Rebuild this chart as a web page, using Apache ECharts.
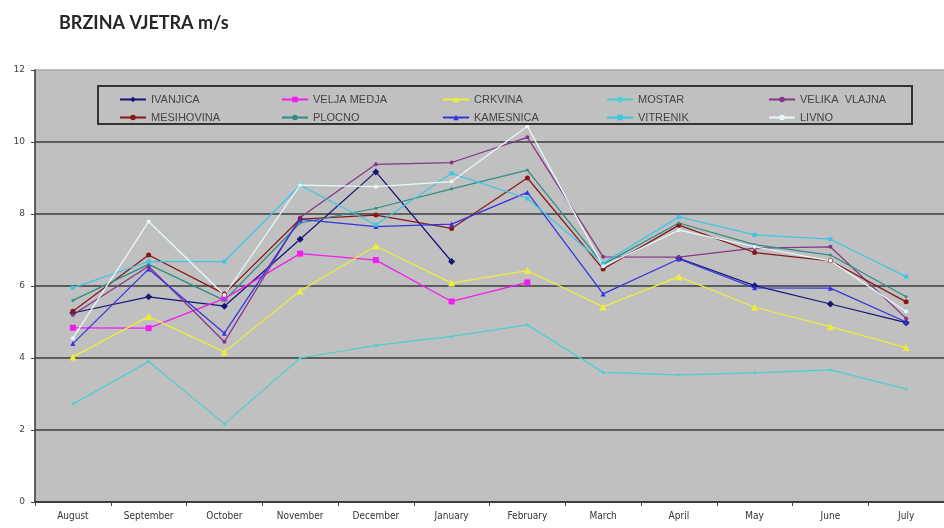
<!DOCTYPE html>
<html>
<head>
<meta charset="utf-8">
<script src="https://cdn.jsdelivr.net/npm/echarts@6/dist/echarts.min.js"></script>
<style>
  html, body { margin: 0; padding: 0; background: #fff; }
  #chart { width: 944px; height: 528px; }
</style>
</head>
<body>
<div id="chart"></div>
<script>
const months = ['August', 'September', 'October', 'November', 'December', 'January',
  'February', 'March', 'April', 'May', 'June', 'July']
const yTicks = [0, 2, 4, 6, 8, 10, 12]

const ivanjica     = [5.25, 5.7, 5.44, 7.3, 9.17, 6.68, null, null, 6.77, 6.01, 5.5, 4.98]
const veljaMedja   = [4.84, 4.83, 5.65, 6.9, 6.72, 5.57, 6.1, null, null, null, null, null]
const crkvina      = [4.03, 5.15, 4.17, 5.86, 7.11, 6.08, 6.43, 5.42, 6.26, 5.41, 4.87, 4.29]
const mostar       = [2.72, 3.9, 2.17, 4.0, 4.35, 4.6, 4.92, 3.6, 3.53, 3.59, 3.67, 3.14]
const velikaVlajna = [5.2, 6.55, 4.45, 7.9, 9.38, 9.43, 10.13, 6.81, 6.8, 7.05, 7.09, 5.1]
const mesihovina   = [5.3, 6.86, 5.78, 7.86, 7.97, 7.6, 9.0, 6.47, 7.69, 6.93, 6.7, 5.56]
const plocno       = [5.6, 6.6, 5.6, 7.75, 8.16, 8.7, 9.22, 6.6, 7.75, 7.15, 6.86, 5.7]
const kamesnica    = [4.4, 6.47, 4.69, 7.85, 7.65, 7.72, 8.6, 5.78, 6.75, 5.95, 5.94, 5.0]
const vitrenik     = [5.95, 6.68, 6.68, 8.8, 7.7, 9.13, 8.43, 6.63, 7.92, 7.42, 7.3, 6.26]
const livno        = [4.55, 7.79, 5.75, 8.8, 8.76, 8.9, 10.44, 6.55, 7.55, 7.09, 6.7, 5.29]

const seriesDefs = [
  { name: 'IVANJICA', data: ivanjica, color: '#14147a', symbol: 'diamond', size: 7 },
  { name: 'VELJA MEDJA', data: veljaMedja, color: '#f21cf2', symbol: 'rect', size: 6 },
  { name: 'CRKVINA', data: crkvina, color: '#eeee3a', symbol: 'triangle', size: 7 },
  { name: 'MOSTAR', data: mostar, color: '#4ccfcf', symbol: 'circle', size: 3 },
  { name: 'VELIKA  VLAJNA', data: velikaVlajna, color: '#86358a', symbol: 'circle', size: 4 },
  { name: 'MESIHOVINA', data: mesihovina, color: '#861818', symbol: 'circle', size: 5 },
  { name: 'PLOCNO', data: plocno, color: '#2f8c86', symbol: 'circle', size: 3 },
  { name: 'KAMESNICA', data: kamesnica, color: '#3434e0', symbol: 'triangle', size: 5 },
  { name: 'VITRENIK', data: vitrenik, color: '#3cc6e6', symbol: 'rect', size: 4 },
  { name: 'LIVNO', data: livno, color: '#e6fafa', symbol: 'circle', size: 4 }
]

// legend placement: 5 columns x 2 rows
const legendLeft = [114, 276, 437, 601, 763]
const legendTop = [89, 107]

const chart = echarts.init(document.getElementById('chart'))

const option = {
  animation: false,
  title: {
    text: 'BRZINA VJETRA m/s',
    left: 54,
    top: 9,
    textStyle: { fontFamily: 'Lato', fontWeight: 'bold', fontSize: 18, color: '#262626' }
  },
  grid: {
    left: 35,
    top: 70,
    width: 920,
    bottom: 26,
    show: true,
    backgroundColor: '#c0c0c0',
    borderWidth: 0
  },
  legend: seriesDefs.map((s, i) => ({
    data: [s.name],
    left: legendLeft[i % 5],
    top: legendTop[Math.floor(i / 5)],
    itemWidth: 26,
    itemHeight: 7,
    itemGap: 4,
    textStyle: { fontFamily: 'Liberation Sans', fontSize: 11, color: '#444' }
  })),
  graphic: [{
    type: 'rect',
    shape: { x: 98, y: 86, width: 814, height: 38 },
    style: { fill: null, stroke: '#333', lineWidth: 2 },
    z: 10
  }],
  xAxis: {
    type: 'category',
    data: months,
    boundaryGap: true,
    axisLine: { lineStyle: { color: '#333', width: 1.5 } },
    axisTick: { show: true, length: 4, lineStyle: { color: '#444' } },
    axisLabel: { fontFamily: 'DejaVu Sans Condensed', fontSize: 10, color: '#333', margin: 9 }
  },
  yAxis: {
    type: 'value',
    min: yTicks[0],
    max: yTicks[yTicks.length - 1],
    interval: 2,
    axisLine: { show: true, lineStyle: { color: '#333', width: 1.5 } },
    axisTick: { show: true, length: 4, lineStyle: { color: '#444' } },
    axisLabel: { fontFamily: 'DejaVu Sans', fontSize: 9, color: '#444', margin: 10 },
    splitLine: {
      lineStyle: {
        color: ['#3c3c3c', '#3c3c3c', '#3c3c3c', '#3c3c3c', '#3c3c3c', '#3c3c3c', '#a8a8a8'],
        width: 1.5
      }
    }
  },
  series: seriesDefs.map(s => ({
    name: s.name,
    type: 'line',
    data: s.data,
    symbol: s.symbol,
    symbolSize: s.size,
    connectNulls: false,
    itemStyle: { color: s.color },
    lineStyle: { color: s.color, width: 1.25 }
  }))
}

chart.setOption(option)
</script>
</body>
</html>
